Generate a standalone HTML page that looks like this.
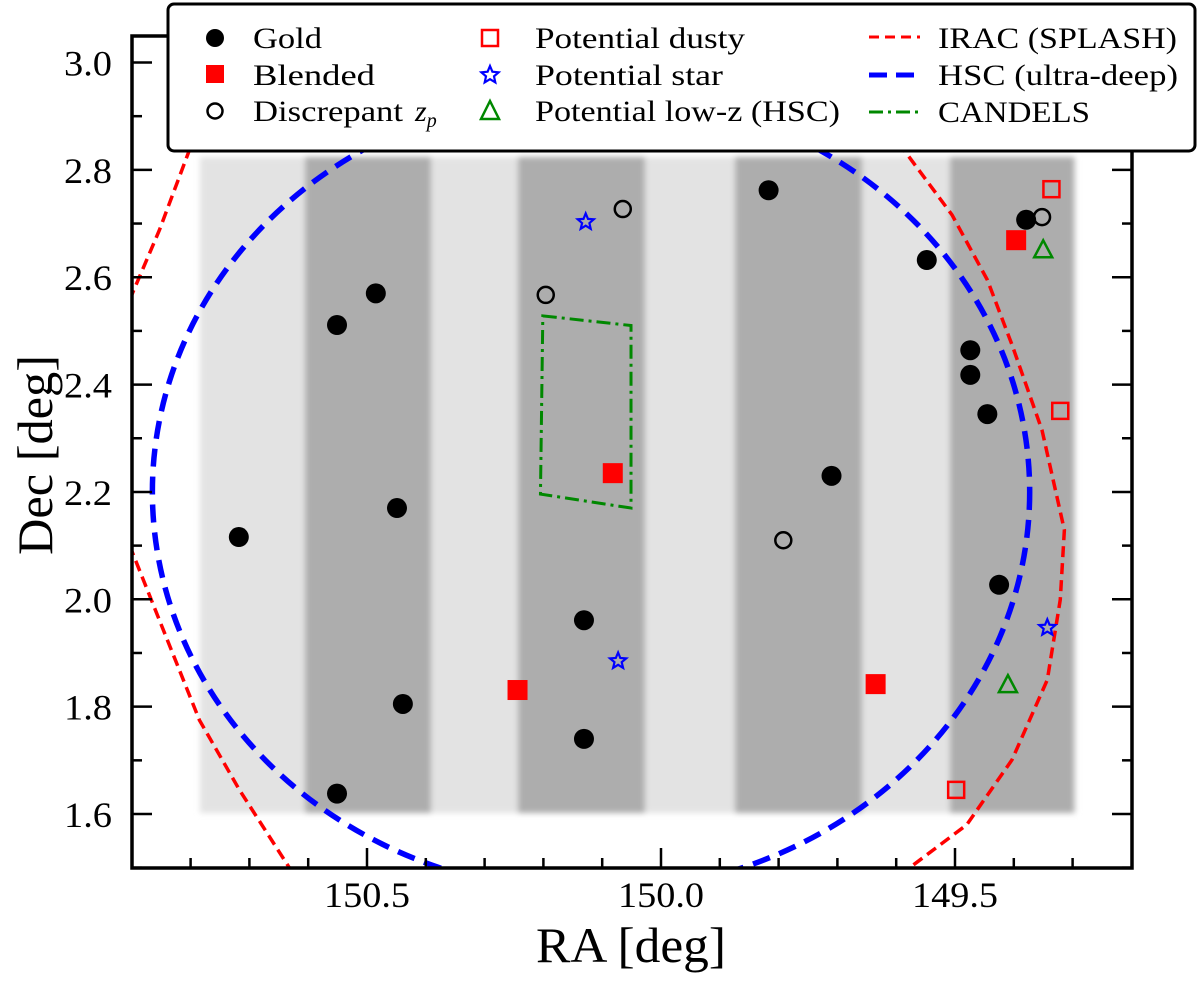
<!DOCTYPE html>
<html><head><meta charset="utf-8"><style>
body{margin:0;background:#fff;}
svg{display:block;font-family:"Liberation Serif",serif;}
</style></head><body>
<svg id="chart" width="1200" height="982">
<defs><clipPath id="plotclip"><rect x="132" y="36" width="1000" height="832"/></clipPath>
<filter id="blur" x="-5%" y="-5%" width="110%" height="110%"><feGaussianBlur stdDeviation="3"/></filter></defs>
<g clip-path="url(#plotclip)"><g id="bg" filter="url(#blur)"></g></g>
<g id="lines" clip-path="url(#plotclip)"></g>
<g id="pts"></g>
<g id="axes"></g>
<text x="631" y="962" font-size="50" text-anchor="middle" textLength="190" lengthAdjust="spacingAndGlyphs">RA [deg]</text>
<text transform="translate(52,455) rotate(-90)" font-size="50" text-anchor="middle" textLength="200" lengthAdjust="spacingAndGlyphs">Dec [deg]</text>
<g>
<rect x="168" y="4" width="1027" height="147" rx="6" fill="#fff" stroke="#000" stroke-width="3"/>
<g font-size="30">
<circle cx="215" cy="38" r="9" fill="#000"/>
<text x="253" y="48" textLength="69" lengthAdjust="spacingAndGlyphs">Gold</text>
<rect x="206" y="65" width="18" height="18" fill="#f00"/>
<text x="253" y="85" textLength="122" lengthAdjust="spacingAndGlyphs">Blended</text>
<circle cx="215" cy="111" r="7.5" fill="none" stroke="#000" stroke-width="2.5"/>
<text x="253" y="121"><tspan textLength="150" lengthAdjust="spacingAndGlyphs">Discrepant</tspan> <tspan x="415" font-style="italic">z</tspan><tspan font-style="italic" font-size="20" dy="6">p</tspan></text>
<rect x="482" y="30" width="16" height="16" fill="none" stroke="#f00" stroke-width="2.5"/>
<text x="535" y="48" textLength="210" lengthAdjust="spacingAndGlyphs">Potential dusty</text>
<path d="M490,66 L492.4,71.7 498.6,72.3 494,76.3 495.3,82.4 490,79.2 484.7,82.4 486,76.3 481.4,72.3 487.6,71.7Z" fill="none" stroke="#00f" stroke-width="2.2"/>
<text x="535" y="85" textLength="188" lengthAdjust="spacingAndGlyphs">Potential star</text>
<path d="M490,101 L499,119 481,119Z" fill="none" stroke="#080" stroke-width="2.5"/>
<text x="535" y="121" textLength="305" lengthAdjust="spacingAndGlyphs">Potential low-z (HSC)</text>
<line x1="869" y1="37" x2="920" y2="37" stroke="#f00" stroke-width="3" stroke-dasharray="10 6"/>
<text x="938" y="48" textLength="239" lengthAdjust="spacingAndGlyphs">IRAC (SPLASH)</text>
<line x1="869" y1="75" x2="920" y2="75" stroke="#00f" stroke-width="5" stroke-dasharray="18 9"/>
<text x="938" y="85" textLength="240" lengthAdjust="spacingAndGlyphs">HSC (ultra-deep)</text>
<line x1="869" y1="112" x2="920" y2="112" stroke="#080" stroke-width="3" stroke-dasharray="14 5 3 5"/>
<text x="938" y="122" textLength="152" lengthAdjust="spacingAndGlyphs">CANDELS</text>
</g></g>
</svg>
<script>
const goldRA=[150.718,150.551,150.485,150.551,150.449,150.439,150.131,150.131,149.817,149.710,149.548,149.474,149.474,149.445,149.425,149.379];
const goldDec=[2.116,2.511,2.570,1.638,2.170,1.805,1.961,1.740,2.762,2.230,2.632,2.464,2.418,2.345,2.027,2.707];
const blendRA=[150.082,150.244,149.635,149.396];
const blendDec=[2.235,1.831,1.842,2.669];
const discRA=[150.196,150.065,149.792,149.352];
const discDec=[2.567,2.727,2.110,2.712];
const dustyRA=[149.336,149.321,149.498];
const dustyDec=[2.764,2.351,1.645];
const starRA=[150.128,150.073,149.343];
const starDec=[2.703,1.885,1.947];
const lowzRA=[149.350,149.410];
const lowzDec=[2.652,1.842];
const candelsRA=[150.201,150.051,150.051,150.205];
const candelsDec=[2.528,2.510,2.170,2.196];
const hscCenter=[150.119,2.20];
const hscRadius=[0.746];
const iracRA=[150.904,150.853,150.802,150.759,149.62,149.599,149.505,149.445,149.403,149.352,149.314,149.321,149.343,149.403,149.480,149.582,149.62,150.597,150.717,150.785,150.853,150.904,150.95];
const iracDec=[2.557,2.688,2.837,2.949,3.1,2.855,2.716,2.595,2.474,2.315,2.129,1.999,1.850,1.701,1.580,1.496,1.44,1.44,1.645,1.775,1.961,2.101,2.33];
const xTicks=[150.5,150.0,149.5];
const yTicks=[1.6,1.8,2.0,2.2,2.4,2.6,2.8,3.0];

const NS='http://www.w3.org/2000/svg';
const X=ra=>661+(150-ra)*588;
const Y=d=>62.5+(3-d)*536.8;
function mk(tag,attrs,parent){const e=document.createElementNS(NS,tag);for(const k in attrs)e.setAttribute(k,attrs[k]);parent.appendChild(e);return e;}
const bg=document.getElementById('bg'),lines=document.getElementById('lines'),pts=document.getElementById('pts'),axes=document.getElementById('axes');

let r=mk('rect',{x:200,y:157,width:876,height:656,fill:'#e3e3e3'},bg);


[[305,126],[518,127],[735,127],[950,124]].forEach(s=>{
 let d=mk('rect',{x:s[0],y:157,width:s[1],height:656,fill:'#adadad'},bg);
 
 
});

let p=mk('path',{d:'M'+iracRA.map((v,i)=>X(v)+','+Y(iracDec[i])).join(' L')+'Z',fill:'none',stroke:'#f00','stroke-width':3.5,'stroke-dasharray':'11 6'},lines);


let c=mk('ellipse',{cx:X(hscCenter[0]),cy:Y(hscCenter[1]),rx:hscRadius[0]*588,ry:hscRadius[0]*536.8,fill:'none',stroke:'#00f','stroke-width':5.5,'stroke-dasharray':'18 10'},lines);


let g=mk('path',{d:'M'+candelsRA.map((v,i)=>X(v)+','+Y(candelsDec[i])).join(' L')+'Z',fill:'none',stroke:'#080','stroke-width':3,'stroke-dasharray':'14 5 3 5'},lines);



goldRA.forEach((v,i)=>{let e=mk('circle',{cx:X(v),cy:Y(goldDec[i]),r:10,fill:'#000'},pts);

});
blendRA.forEach((v,i)=>{let e=mk('rect',{x:X(v)-10,y:Y(blendDec[i])-10,width:20,height:20,fill:'#f00'},pts);

});
discRA.forEach((v,i)=>{let e=mk('circle',{cx:X(v),cy:Y(discDec[i]),r:8,fill:'none',stroke:'#000','stroke-width':2.5},pts);

});
dustyRA.forEach((v,i)=>{let e=mk('rect',{x:X(v)-8,y:Y(dustyDec[i])-8,width:16,height:16,fill:'none',stroke:'#f00','stroke-width':2.5},pts);

});
starRA.forEach((v,i)=>{const cx=X(v),cy=Y(starDec[i]);let d='';for(let k=0;k<10;k++){const a=-Math.PI/2+k*Math.PI/5,rr=k%2?3.8:8.5;d+=(k?'L':'M')+(cx+rr*Math.cos(a)).toFixed(1)+','+(cy+rr*Math.sin(a)).toFixed(1);}
let e=mk('path',{d:d+'Z',fill:'none',stroke:'#00f','stroke-width':2.2},pts);

});
lowzRA.forEach((v,i)=>{const cx=X(v),cy=Y(lowzDec[i]);let e=mk('path',{d:`M${cx},${cy-9} L${cx+9},${cy+8} L${cx-9},${cy+8}Z`,fill:'none',stroke:'#080','stroke-width':2.5},pts);

});

let f=mk('rect',{x:132,y:36,width:1000,height:832,fill:'none',stroke:'#000','stroke-width':3.5},axes);


for(let k=149.2;k<=150.901;k+=0.1){const v=Math.round(k*10)/10;const x=X(v);if(x<134||x>1130)continue;const maj=Math.abs(v*2-Math.round(v*2))<1e-6;const L=maj?20:10;
 mk('line',{x1:x,y1:868,x2:x,y2:868-L,stroke:'#000','stroke-width':2.5},axes);
 mk('line',{x1:x,y1:36,x2:x,y2:36+L,stroke:'#000','stroke-width':2.5},axes);}
for(let k=1.5;k<=3.05;k+=0.1){const v=Math.round(k*10)/10;const y=Y(v);const maj=Math.round(v*10)%2===0;const L=maj?20:10;
 mk('line',{x1:132,y1:y,x2:132+L,y2:y,stroke:'#000','stroke-width':2.5},axes);
 mk('line',{x1:1132,y1:y,x2:1132-L,y2:y,stroke:'#000','stroke-width':2.5},axes);}
xTicks.forEach(v=>{let t=mk('text',{x:X(v),y:907,'font-size':36,'text-anchor':'middle',textLength:86,lengthAdjust:'spacingAndGlyphs'},axes);t.textContent=v.toFixed(1);

});
yTicks.forEach(v=>{let t=mk('text',{x:112,y:Y(v)+13,'font-size':36,'text-anchor':'end',textLength:48,lengthAdjust:'spacingAndGlyphs'},axes);t.textContent=v.toFixed(1);

});
</script>
</body></html>
